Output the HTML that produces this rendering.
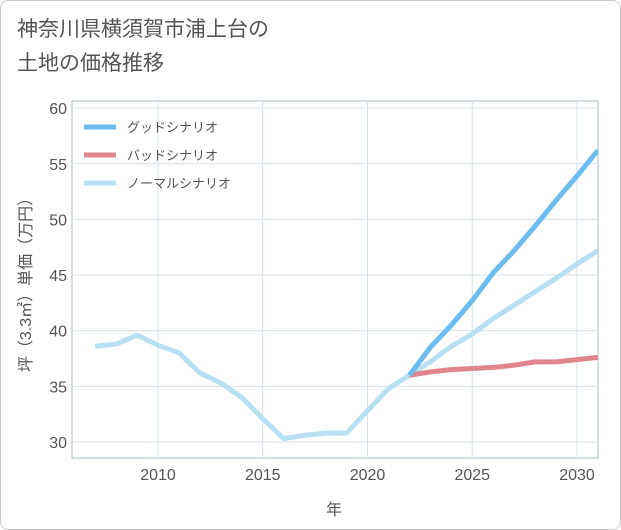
<!DOCTYPE html>
<html><head><meta charset="utf-8"><style>
body{margin:0;background:#fff;}
#wrap{position:relative;width:619px;height:528px;border:1px solid #ccc;border-radius:8px;background:#fff;overflow:hidden;font-family:"Liberation Sans","Noto Sans CJK JP",sans-serif;}
#title{position:absolute;left:16px;top:12px;font-size:21px;line-height:34px;color:#555;}
</style></head><body>
<div id="wrap">
<div id="title">神奈川県横須賀市浦上台の<br>土地の価格推移</div>
<svg id="chart" width="619" height="528" style="position:absolute;left:0;top:0"></svg>
</div>
<script>
const years=[2007,2008,2009,2010,2011,2012,2013,2014,2015,2016,2017,2018,2019,2020,2021,2022];
const history=[38.6,38.8,39.6,38.7,38.0,36.2,35.3,34.0,32.1,30.3,30.6,30.8,30.8,32.8,34.8,36.0];
const futureYears=[2022,2023,2024,2025,2026,2027,2028,2029,2030,2031];
const goodValues=[36.0,38.5,40.5,42.7,45.2,47.2,49.4,51.7,53.9,56.2];
const badValues=[36.0,36.3,36.5,36.6,36.7,36.9,37.2,37.2,37.4,37.6];
const normalValues=[36.0,37.2,38.6,39.7,41.1,42.3,43.5,44.7,46.0,47.2];
const xTicks=[2010,2015,2020,2025,2030];
const yTicks=[30,35,40,45,50,55,60];
const L=71,R=597,T=100,B=457;
const x=v=>157+(v-2010)*20.95;
const y=v=>441-(v-30)*11.13;
const svg=document.getElementById('chart');
const NS='http://www.w3.org/2000/svg';
function mk(t,a,p){const e=document.createElementNS(NS,t);for(const k in a)e.setAttribute(k,a[k]);(p||svg).appendChild(e);return e;}
let r=mk('rect',{x:L,y:T,width:R-L,height:B-T,fill:'#fff',stroke:'#aab8c8'});


xTicks.forEach(v=>{let l=mk('line',{x1:x(v),x2:x(v),y1:T,y2:B,stroke:'#d5e0ea'});


let t=mk('text',{x:x(v),y:B+22,'text-anchor':'middle','font-size':16,fill:'#555'});t.textContent=v;

});
yTicks.forEach(v=>{let l=mk('line',{x1:L,x2:R,y1:y(v),y2:y(v),stroke:'#d5e0ea'});


let t=mk('text',{x:L-5,y:y(v)+6,'text-anchor':'end','font-size':16,fill:'#555'});t.textContent=v;

});
let cp=mk('clipPath',{id:'cp'});mk('rect',{x:L,y:T,width:R-L,height:B-T},cp);
function line(xs,vs,c,n){let p=mk('polyline',{points:xs.map((v,i)=>x(v)+','+y(vs[i])).join(' '),fill:'none',stroke:c,'stroke-width':5,'stroke-linejoin':'round','clip-path':'url(#cp)'});

}
line(years,history,'#b9e0f0','history-line');
line(futureYears,normalValues,'#b9e0f0','normal-line');
line(futureYears,badValues,'#e0858e','bad-line');
line(futureYears,goodValues,'#6cbcf0','good-line');
[['グッドシナリオ','#6cbcf0'],['バッドシナリオ','#e0858e'],['ノーマルシナリオ','#b9e0f0']].forEach((d,i)=>{
let g=mk('g',{});


mk('line',{x1:83,x2:115,y1:126+i*28,y2:126+i*28,stroke:d[1],'stroke-width':5},g);
let t=mk('text',{x:126,y:131+i*28,'font-size':13,fill:'#555'},g);t.textContent=d[0];});
let yl=mk('text',{transform:'translate(30,280) rotate(-90)','text-anchor':'middle','font-size':16,fill:'#555'});yl.textContent='坪（3.3㎡）単価（万円）';


let xl=mk('text',{x:333,y:514,'text-anchor':'middle','font-size':16,fill:'#555'});xl.textContent='年';


</script>
</body></html>
